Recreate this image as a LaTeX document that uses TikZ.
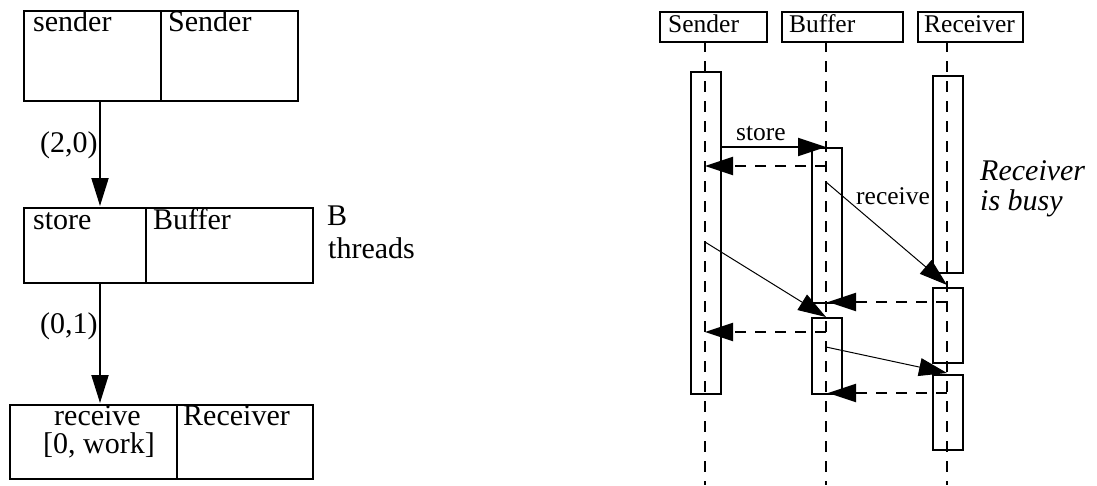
\documentclass[tikz,border=0pt]{standalone}
\usepackage{fontspec}
\setmainfont{Liberation Serif}
\usetikzlibrary{arrows.meta,positioning}
\begin{document}
\begin{tikzpicture}[x=1pt,y=-1pt,
  box/.style={draw,line width=2pt,inner sep=0,anchor=north west},
  lbl/.style={inner sep=0,anchor=base west,font=\fontsize{30}{34}\selectfont},
  slbl/.style={inner sep=0,anchor=base west,font=\fontsize{25.5}{28}\selectfont},
  flow/.style={line width=2pt,-{Triangle[length=28pt,width=17pt]}},
  msg/.style={line width=1pt,-{Triangle[length=28pt,width=18pt]}},
  ret/.style={line width=2pt,dash pattern=on 11pt off 9pt,-{Triangle[length=28pt,width=18pt]}},
  life/.style={line width=2pt,dash pattern=on 11pt off 9pt},
  act/.style={draw,line width=2pt,inner sep=0,anchor=north west,minimum width=30pt},
  hd/.style={draw,line width=2pt,inner sep=0,anchor=north west,minimum height=30pt},
]
\useasboundingbox (0,0) rectangle (1097,485);
% ---------- left part ----------
\node[box,minimum width=137pt,minimum height=90pt] (b1l) at (23,10) {};
\node[box,minimum width=137pt,minimum height=90pt] (b1r) at (160,10) {};
\node[lbl] (t1a) at (33,31) {sender};
\node[lbl] (t1b) at (168,31) {Sender};

\node[box,minimum width=122pt,minimum height=75pt] (b2l) at (23,207) {};
\node[box,minimum width=167pt,minimum height=75pt] (b2r) at (145,207) {};
\node[lbl] (t2a) at (33,229) {store};
\node[lbl] (t2b) at (153,229) {Buffer};
\node[lbl] (t2c) at (327,225) {B};
\node[lbl] (t2d) at (328,258) {threads};

\node[box,minimum width=167pt,minimum height=74pt] (b3l) at (9,404) {};
\node[box,minimum width=136pt,minimum height=74pt] (b3r) at (176,404) {};
\node[lbl,anchor=base] (t3a) at (97.5,425) {receive};
\node[lbl,anchor=base] (t3b) at (99,453) {[0, work]};
\node[lbl] (t3c) at (183,425) {Receiver};

\coordinate (e1s) at (100,100);
\coordinate (e1e) at (100,206);
\coordinate (e2s) at (100,282);
\coordinate (e2e) at (100,403);
\draw[flow] (e1s) -- (e1e);
\draw[flow] (e2s) -- (e2e);
\node[lbl] (l1) at (40,152) {(2,0)};
\node[lbl] (l2) at (40,333) {(0,1)};

% ---------- right part ----------
\node[hd,minimum width=107pt] (hs) at (659,11) {};
\node[hd,minimum width=121pt] (hb) at (781,11) {};
\node[hd,minimum width=105pt] (hr) at (917,11) {};
\node[slbl] (ths) at (668,32) {Sender};
\node[slbl] (thb) at (789,32) {Buffer};
\node[slbl] (thr) at (924,32) {Receiver};

\coordinate (ls) at (705,41);  \coordinate (lse) at (705,485);
\coordinate (lb) at (826,41);  \coordinate (lbe) at (826,485);
\coordinate (lr) at (947,41);  \coordinate (lre) at (947,485);
\draw[life] (ls) -- (lse);
\draw[life] (lb) -- (lbe);
\draw[life] (lr) -- (lre);

\node[act,minimum height=322pt] (as) at (690,71) {};
\node[act,minimum height=155pt] (ab1) at (811,147) {};
\node[act,minimum height=76pt] (ab2) at (811,317) {};
\node[act,minimum height=197pt] (ar1) at (932,75) {};
\node[act,minimum height=75pt] (ar2) at (932,287) {};
\node[act,minimum height=75pt] (ar3) at (932,374) {};

% messages
\coordinate (m1s) at (720,147);  \coordinate (m1e) at (826,147);
\draw[msg,line width=2pt] (m1s) -- (m1e);
\node[slbl] (tstore) at (736,140) {store};
\coordinate (r1s) at (826,166);  \coordinate (r1e) at (705,166);
\draw[ret] (r1s) -- (r1e);
\coordinate (m2s) at (826,182);  \coordinate (m2e) at (947,285);
\draw[msg] (m2s) -- (m2e);
\node[slbl,anchor=base east] (trecv) at (930,204) {receive};
\coordinate (r2s) at (947,302);  \coordinate (r2e) at (828,302);
\draw[ret] (r2s) -- (r2e);
\coordinate (m3s) at (705,242);  \coordinate (m3e) at (826,317);
\draw[msg] (m3s) -- (m3e);
\coordinate (r3s) at (826,332);  \coordinate (r3e) at (705,332);
\draw[ret] (r3s) -- (r3e);
\coordinate (m4s) at (826,347);  \coordinate (m4e) at (947,373);
\draw[msg] (m4s) -- (m4e);
\coordinate (r4s) at (947,393);  \coordinate (r4e) at (828,393);
\draw[ret] (r4s) -- (r4e);

\node[lbl,font=\fontsize{30}{34}\selectfont\itshape] (busy1) at (980,180) {Receiver};
\node[lbl,font=\fontsize{30}{34}\selectfont\itshape] (busy2) at (980,210) {is busy};
\end{tikzpicture}
\end{document}
